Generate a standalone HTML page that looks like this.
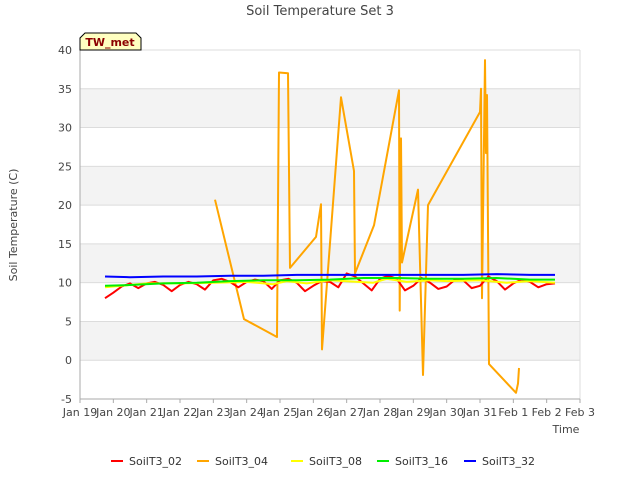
<!DOCTYPE html>
<html><head><meta charset="utf-8"><style>
body{margin:0;background:#fff;font-family:"Liberation Sans","DejaVu Sans",sans-serif}
svg text{font-family:"DejaVu Sans","Liberation Sans",sans-serif}
</style></head><body>
<svg id="chart" width="640" height="480" viewBox="0 0 640 480" xmlns="http://www.w3.org/2000/svg">
<rect width="640" height="480" fill="#fff"/>
<text x="320" y="15" text-anchor="middle" font-size="13" fill="#444">Soil Temperature Set 3</text>
<g id="bands"></g><g id="grid"></g><g id="series"></g><g id="axes"></g>
<g>
<path d="M80,50 L80,38 L85,33 L136,33 L141,38 L141,50 Z" fill="#ffffc0" stroke="#000" stroke-width="1"/>
<text x="110" y="46" text-anchor="middle" font-size="11" font-weight="bold" fill="#8b0000">TW_met</text>
</g>
<text transform="translate(17,225) rotate(-90)" text-anchor="middle" font-size="11" fill="#444">Soil Temperature (C)</text>
<text x="566" y="433" text-anchor="middle" font-size="11" fill="#444">Time</text>
<g id="legend"></g>
</svg>
<script>
const xTickLabels=["Jan 19","Jan 20","Jan 21","Jan 22","Jan 23","Jan 24","Jan 25","Jan 26","Jan 27","Jan 28","Jan 29","Jan 30","Jan 31","Feb 1","Feb 2","Feb 3"];
const yTicks=[-5,0,5,10,15,20,25,30,35,40];
const seriesNames=["SoilT3_02","SoilT3_04","SoilT3_08","SoilT3_16","SoilT3_32"];
const seriesColors=["#ff0000","#ffa500","#ffff00","#00ee00","#0000ff"];
const redDays=[0.75,1,1.25,1.5,1.75,2,2.25,2.5,2.75,3,3.25,3.5,3.75,4,4.25,4.5,4.75,5,5.25,5.5,5.75,6,6.25,6.5,6.75,7,7.25,7.5,7.75,8,8.25,8.5,8.75,9,9.25,9.5,9.75,10,10.25,10.5,10.75,11,11.25,11.5,11.75,12,12.25,12.5,12.75,13,13.25,13.5,13.75,14,14.25];
const redVals=[8.0,8.7,9.5,9.9,9.3,9.9,10.1,9.7,8.9,9.7,10.1,9.8,9.1,10.3,10.5,10.1,9.4,10.1,10.4,10.2,9.2,10.3,10.5,10.0,8.9,9.6,10.2,10.1,9.4,11.2,10.8,9.9,9.0,10.5,10.9,10.5,9.0,9.6,10.6,10.0,9.2,9.5,10.4,10.3,9.3,9.6,10.8,10.2,9.1,9.9,10.4,10.1,9.4,9.8,9.9];
const orangeDays=[4.05,4.92,5.91,5.97,6.24,6.30,7.08,7.23,7.26,7.83,8.22,8.25,8.82,9.57,9.59,9.63,9.66,10.14,10.29,10.44,12.0,12.03,12.06,12.15,12.18,12.21,12.27,13.08,13.14,13.17];
const orangeVals=[20.7,5.3,3.0,37.1,37.0,11.9,15.9,20.1,1.4,33.9,24.4,11.2,17.4,34.8,6.4,28.6,12.6,22.0,-1.9,20.0,32.0,35.0,8.0,38.7,26.7,34.2,-0.5,-4.2,-3.0,-1.0];
const yellowDays=[0.75,1.25,2,3,4,5,5.8,6.2,6.8,7.5,8.8,9.2,9.8,10.5,11,12,12.8,13.5,14.25];
const yellowVals=[9.4,9.6,9.9,9.9,10.0,10.1,9.8,10.2,9.9,10.3,10.0,10.5,10.1,10.3,10.2,10.3,10.0,10.2,10.0];
const greenDays=[0.75,1.5,2.5,3.5,4.5,5.5,6.5,7.5,8.5,9.5,10.5,11.5,12.5,13.5,14.25];
const greenVals=[9.6,9.7,9.9,10.0,10.2,10.3,10.3,10.4,10.6,10.6,10.5,10.5,10.6,10.4,10.4];
const blueDays=[0.75,1.5,2.5,3.5,4.5,5.5,6.5,7.5,8.5,9.5,10.5,11.5,12.5,13.5,14.25];
const blueVals=[10.8,10.7,10.8,10.8,10.9,10.9,11.0,11.0,11.0,11.0,11.0,11.0,11.1,11.0,11.0];

const NS="http://www.w3.org/2000/svg";
const X0=80,X1=580,Y0=399,Y1=50,YMIN=-5,YMAX=40,NDAYS=15;
const xs=d=>X0+(X1-X0)*d/NDAYS;
const ys=v=>Y0-(Y0-Y1)*(v-YMIN)/(YMAX-YMIN);
function mk(tag,attrs,parent){const e=document.createElementNS(NS,tag);for(const k in attrs)e.setAttribute(k,attrs[k]);parent.appendChild(e);return e;}
const bands=document.getElementById('bands'),grid=document.getElementById('grid'),axes=document.getElementById('axes'),series=document.getElementById('series'),legend=document.getElementById('legend');
for(let i=0;i<yTicks.length-1;i++){
  const a=yTicks[i],b=yTicks[i+1];
  const fill=(i%2===1)?"#f3f3f3":"#ffffff";
  const r=mk('rect',{x:X0,y:ys(b),width:X1-X0,height:ys(a)-ys(b),fill:fill},bands);
  
  
}
yTicks.forEach(v=>{
  const l=mk('line',{x1:X0,x2:X1,y1:ys(v),y2:ys(v),stroke:"#dcdcdc","stroke-width":1},grid);
  
  
  const t=mk('text',{x:X0-8,y:ys(v)+4,"text-anchor":"end","font-size":11,fill:"#444"},axes);
  t.textContent=v;
  
  
});
mk('line',{x1:X1,x2:X1,y1:Y1,y2:Y0,stroke:"#dcdcdc"},grid);
xTickLabels.forEach((s,i)=>{
  const t=mk('text',{x:xs(i),y:Y0+17,"text-anchor":"middle","font-size":11,fill:"#444"},axes);
  t.textContent=s;
  
  
  mk('line',{x1:xs(i),x2:xs(i),y1:Y0,y2:Y0+4,stroke:"#aaa"},axes);
});
mk('line',{x1:X0,x2:X0,y1:Y1,y2:Y0,stroke:"#aaa"},axes);
mk('line',{x1:X0,x2:X1,y1:Y0,y2:Y0,stroke:"#aaa"},axes);
const data=[[redDays,redVals],[orangeDays,orangeVals],[yellowDays,yellowVals],[greenDays,greenVals],[blueDays,blueVals]];
const order=[1,0,2,3,4];
order.forEach(i=>{
  const [d,v]=data[i];
  const pts=d.map((dd,j)=>xs(dd).toFixed(1)+","+ys(v[j]).toFixed(1)).join(" ");
  const p=mk('polyline',{points:pts,fill:"none",stroke:seriesColors[i],"stroke-width":2,"stroke-linejoin":"round"},series);
  
  
});
const lx=[111,197,291,377,464];
seriesNames.forEach((n,i)=>{
  const g=mk('g',{},legend);
  
  
  mk('line',{x1:lx[i],x2:lx[i]+12,y1:461,y2:461,stroke:seriesColors[i],"stroke-width":2},g);
  const t=mk('text',{x:lx[i]+18,y:465,"font-size":11,fill:"#333"},g);
  t.textContent=n;
});
</script>
</body></html>
